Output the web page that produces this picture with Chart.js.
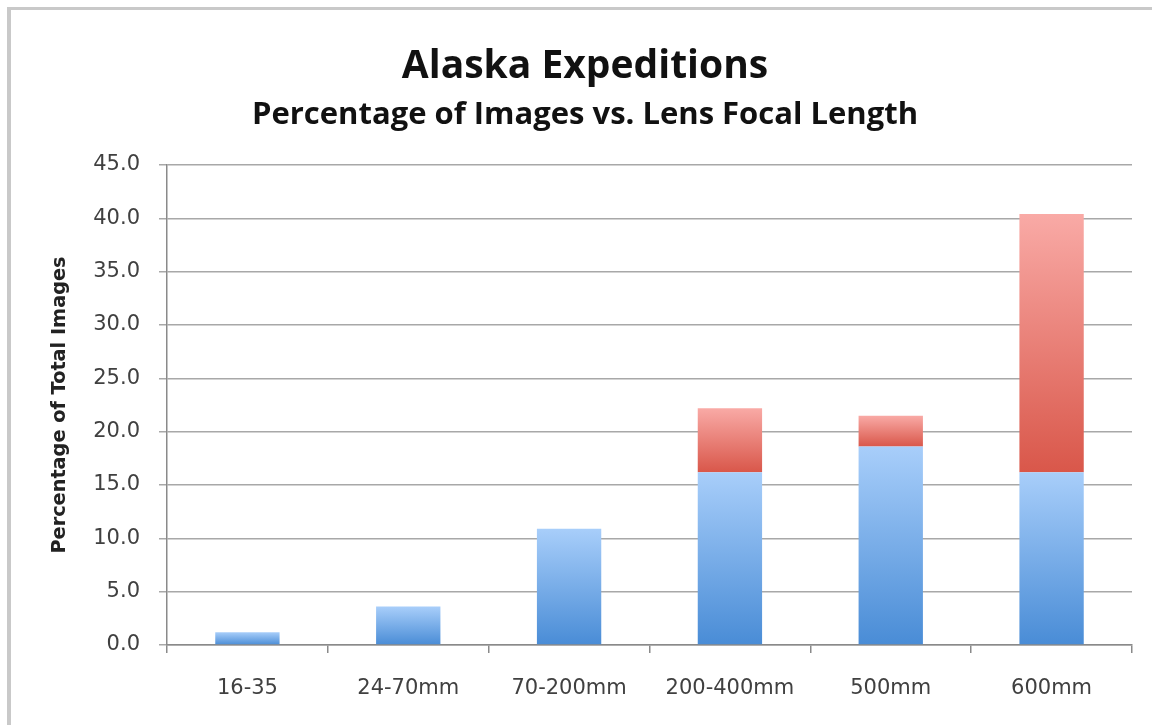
<!DOCTYPE html>
<html>
<head>
<meta charset="utf-8">
<script src="https://cdn.jsdelivr.net/npm/chart.js@4/dist/chart.umd.min.js"></script>
<style>
html, body { margin:0; padding:0; background:#fff; }
#wrap { position:relative; width:1152px; height:725px; overflow:hidden; }
#frame {
    position:absolute; left:7px; top:7px; width:1200px; height:800px;
    border-left:4px solid #c9c9c9; border-top:3px solid #c9c9c9;
}
#chart { position:absolute; left:0; top:0; }
</style>
</head>
<body>
<div id="wrap">
    <div id="frame"></div>
    <canvas id="chart" width="1152" height="725"></canvas>
</div>
<script>
// lens groups on the x axis
const lenses = ["16-35", "24-70mm", "70-200mm", "200-400mm", "500mm", "600mm"];

// percentage of total images, lower (blue) and upper (red) parts of each stack
const blueShare = [1.2, 3.6, 10.9, 16.2, 18.6, 16.2];
const redShare  = [0, 0, 0, 6.0, 2.9, 24.2];

// y axis ticks
const yTicks = [0, 5, 10, 15, 20, 25, 30, 35, 40, 45];

const axisFont = "'DejaVu Sans', Verdana, sans-serif";
const titleFont = "'Open Sans', Lato, sans-serif";

// vertical gradient over one stacked segment
function segFill(c, light, dark){
    const chart = c.chart;
    const {ctx, chartArea, scales} = chart;
    if(!chartArea || c.type !== "data") return dark;
    const i = c.dataIndex;
    const y = scales.y;
    let lo = 0, hi = blueShare[i];
    if(c.datasetIndex === 1){
        lo = blueShare[i];
        hi = blueShare[i] + redShare[i];
    }
    const top = y.getPixelForValue(hi);
    const bottom = y.getPixelForValue(lo);
    if(bottom - top < 1) return dark;
    const g = ctx.createLinearGradient(0, top, 0, bottom);
    g.addColorStop(0, light);
    g.addColorStop(1, dark);
    return g;
}

new Chart(document.getElementById("chart"), {
    type: "bar",
    data: {
        labels: lenses,
        datasets: [{
            label: "Blue",
            data: blueShare,
            backgroundColor: c => segFill(c, "#a8cefa", "#498cd6"),
            borderWidth: 0,
            categoryPercentage: 1,
            barPercentage: 0.4
        }, {
            label: "Red",
            data: redShare,
            backgroundColor: c => segFill(c, "#f9aaa6", "#d9574a"),
            borderWidth: 0,
            categoryPercentage: 1,
            barPercentage: 0.4
        }]
    },
    options: {
        responsive: false,
        animation: false,
        devicePixelRatio: 1,
        layout: { padding: { left: 38, right: 20, top: 0, bottom: 0 } },
        plugins: {
            legend: { display: false },
            tooltip: { enabled: false },
            title: {
                display: true,
                text: "Alaska Expeditions",
                color: "#111",
                font: { family: titleFont, size: 39, weight: "bold" },
                padding: { top: 43, bottom: 0 }
            },
            subtitle: {
                display: true,
                text: "Percentage of Images vs. Lens Focal Length",
                color: "#111",
                font: { family: titleFont, size: 31, weight: "bold" },
                padding: { top: 7, bottom: 31 }
            }
        },
        scales: {
            x: {
                stacked: true,
                afterFit: s => { s.height = 80; },
                grid: {
                    drawOnChartArea: false,
                    drawTicks: true,
                    tickLength: 8,
                    color: "#8a8a8a",
                    lineWidth: 1.5
                },
                border: { color: "#8a8a8a", width: 1.5 },
                ticks: {
                    color: "#404040",
                    padding: 23,
                    font: { family: axisFont, size: 21 }
                }
            },
            y: {
                stacked: true,
                min: 0,
                max: 45,
                afterFit: s => { s.width = 129; },
                afterBuildTicks: s => { s.ticks = yTicks.map(v => ({ value: v })); },
                grid: {
                    color: "#a8a8a8",
                    lineWidth: 1.5,
                    tickLength: 8
                },
                border: { color: "#8a8a8a", width: 1.5 },
                ticks: {
                    color: "#404040",
                    padding: 19,
                    font: { family: axisFont, size: 21 },
                    callback: v => Number(v).toFixed(1)
                },
                title: {
                    display: true,
                    text: "Percentage of Total Images",
                    color: "#222",
                    font: { family: axisFont, size: 19.3, weight: "bold" },
                    padding: { top: 10, bottom: 0 }
                }
            }
        }
    }
});
</script>
</body>
</html>
